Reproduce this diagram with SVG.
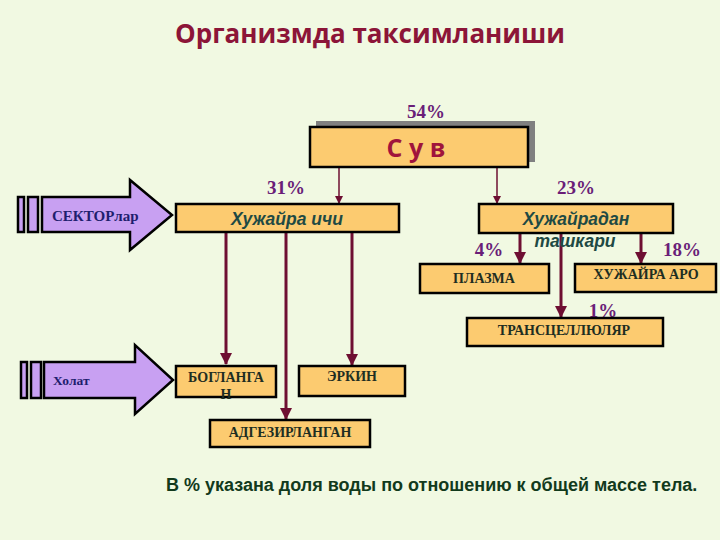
<svg xmlns="http://www.w3.org/2000/svg" width="720" height="540" viewBox="0 0 720 540">
<style>
.bg{fill:#F1F9E2}
.box{fill:#FCCB70;stroke:#000;stroke-width:2.5}
.pct{font-family:"Liberation Serif",serif;font-weight:bold;font-size:19px;fill:#6A1E78;text-anchor:middle}
.sm{font-family:"Liberation Serif",serif;font-weight:bold;font-size:14px;fill:#1E2E22;text-anchor:middle}
.it{font-family:"Liberation Sans",Arial,sans-serif;font-weight:bold;font-style:italic;font-size:17.5px;fill:#1E4A44;text-anchor:middle}
.arr{fill:#C8A0F2;stroke:#000;stroke-width:2.5;stroke-linejoin:miter}
.lbl{font-family:"Liberation Serif",serif;font-weight:bold;fill:#1E1E6E}
.thin{stroke:#6E0F32;stroke-width:1.5;fill:none}
.thick{stroke:#6E0F32;stroke-width:3;fill:none}
</style>
<defs>
<marker id="hs" markerWidth="8" markerHeight="8" refX="7" refY="4" orient="auto" markerUnits="userSpaceOnUse">
<path d="M0,0 L8,4 L0,8 Z" fill="#6E0F32"/>
</marker>
<marker id="hb" markerWidth="12" markerHeight="12" refX="11" refY="6" orient="auto" markerUnits="userSpaceOnUse">
<path d="M0,0 L12,6 L0,12 Z" fill="#6E0F32"/>
</marker>
</defs>
<rect class="bg" x="0" y="0" width="720" height="540"/>
<text x="370" y="43" text-anchor="middle" font-family="'Open Sans',sans-serif" font-weight="bold" font-size="26" fill="#8C1538">Организмда таксимланиши</text>

<g id="connectors">
<line class="thin" x1="339" y1="167" x2="339" y2="203" marker-end="url(#hs)"/>
<line class="thin" x1="497" y1="167" x2="497" y2="203" marker-end="url(#hs)"/>
<line class="thick" x1="520" y1="233" x2="520" y2="263" marker-end="url(#hb)"/>
<line class="thick" x1="561" y1="233" x2="561" y2="317" marker-end="url(#hb)"/>
<line class="thick" x1="641" y1="233" x2="641" y2="263" marker-end="url(#hb)"/>
<line class="thick" x1="226" y1="232" x2="226" y2="364" marker-end="url(#hb)"/>
<line class="thick" x1="286" y1="232" x2="286" y2="419" marker-end="url(#hb)"/>
<line class="thick" x1="352" y1="232" x2="352" y2="365" marker-end="url(#hb)"/>
</g>

<g id="suv">
<rect x="316" y="121" width="219" height="41" fill="#808080"/>
<rect class="box" x="310" y="127" width="218" height="40" stroke-width="3"/>
<text x="416" y="157" text-anchor="middle" font-family="'Open Sans',sans-serif" font-weight="bold" font-size="25" fill="#A0143C">С у в</text>
<text class="pct" x="426" y="118">54%</text>
</g>

<g id="pct-labels">
<text class="pct" x="286" y="194">31%</text>
<text class="pct" x="576" y="194">23%</text>
<text class="pct" x="489" y="256">4%</text>
<text class="pct" x="682" y="256">18%</text>
<text class="pct" x="603" y="317">1%</text>
</g>

<g id="hujayra-ichi">
<rect class="box" x="176" y="204" width="223" height="28"/>
<text class="it" x="287" y="225">Хужайра ичи</text>
</g>

<g id="hujayradan">
<rect class="box" x="479" y="204" width="194" height="29"/>
<text class="it" x="576" y="225">Хужайрадан</text>
<text class="it" x="575" y="247">ташкари</text>
</g>

<g id="plazma">
<rect class="box" x="420" y="264" width="129" height="29"/>
<text class="sm" x="484" y="283">ПЛАЗМА</text>
</g>

<g id="hujayra-aro">
<rect class="box" x="575" y="264" width="141" height="28"/>
<text class="sm" x="646" y="279" font-size="11">ХУЖАЙРА АРО</text>
</g>

<g id="transcellular">
<rect class="box" x="467" y="318" width="196" height="28"/>
<text class="sm" x="564" y="335">ТРАНСЦЕЛЛЮЛЯР</text>
</g>

<g id="boglangan">
<rect class="box" x="176" y="366" width="100" height="31"/>
<text class="sm" x="226" y="382" fill="#1E3A28">БОГЛАНГА</text>
<text class="sm" x="226" y="399" fill="#1E3A28">Н</text>
</g>

<g id="erkin">
<rect class="box" x="299" y="366" width="106" height="30"/>
<text class="sm" x="352" y="381" font-size="11">ЭРКИН</text>
</g>

<g id="adgezirlangan">
<rect class="box" x="210" y="420" width="160" height="27"/>
<text class="sm" x="290" y="437">АДГЕЗИРЛАНГАН</text>
</g>

<g id="sektorlar">
<rect class="arr" x="18" y="197" width="6" height="35"/>
<rect class="arr" x="28" y="197" width="10" height="35"/>
<path class="arr" d="M42,197 L130,197 L130,180 L172,215 L130,250 L130,232 L42,232 Z"/>
<text class="lbl" x="52" y="221" font-size="15">СЕКТОРлар</text>
</g>

<g id="holat">
<rect class="arr" x="21" y="362" width="6" height="36"/>
<rect class="arr" x="31" y="362" width="10" height="36"/>
<path class="arr" d="M44,362 L135,362 L135,345 L173,380 L135,414 L135,398 L44,398 Z"/>
<text class="lbl" x="53" y="385" font-size="13.5">Холат</text>
</g>

<text x="166" y="491" font-family="'Liberation Sans',Arial,sans-serif" font-weight="bold" font-size="18" fill="#123A1C">В % указана доля воды по отношению к общей массе тела.</text>
</svg>
